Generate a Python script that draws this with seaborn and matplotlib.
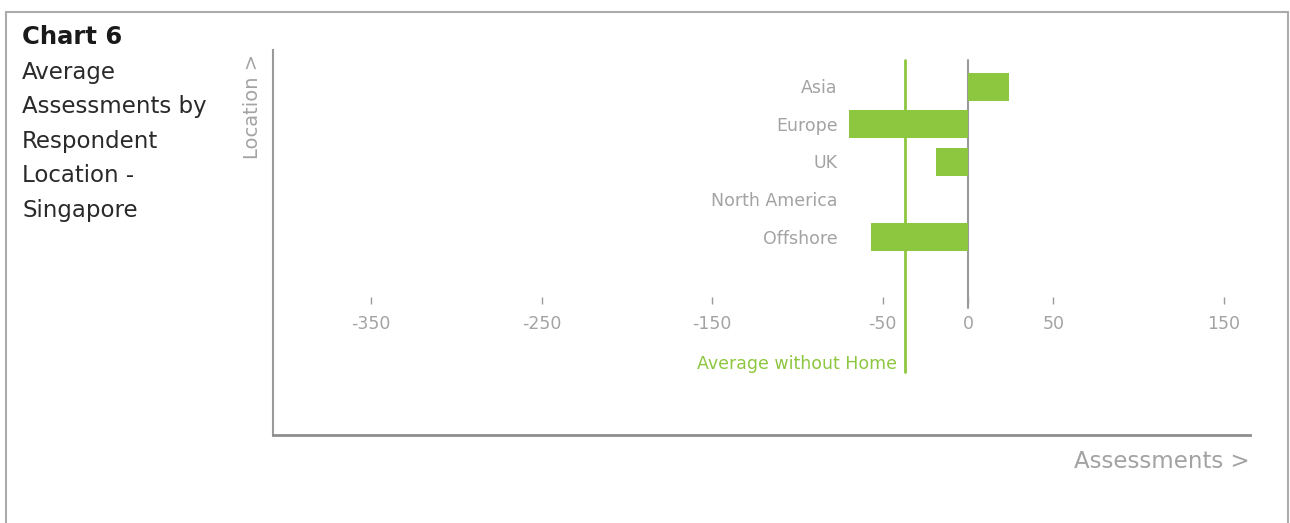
import matplotlib
matplotlib.use("Agg")
import matplotlib.pyplot as plt
import matplotlib.transforms as mtransforms
from matplotlib.patches import Rectangle
import seaborn as sns
import pandas as pd

# Data
locations = ["Asia", "Europe", "UK", "North America", "Offshore"]
assessments = [24, -70, -19, 0, -57]
avg_without_home = -37
tick_values = [-350, -250, -150, -50, 0, 50, 150]
tick_labels = ["-350", "-250", "-150", "-50", "0", "50", "150"]

GREEN = "#8DC63F"
GREY_TXT = "#A3A3A5"
GREY_LINE = "#9A9A9C"

sns.set_theme(style="white")
plt.rcParams["font.family"] = ["DejaVu Sans"]

fig = plt.figure(figsize=(12.9, 5.23), dpi=100)
ax = fig.add_axes([0.2116, 0.1683, 0.7574, 0.7361])

df = pd.DataFrame({"Location": locations, "Assessments": assessments})
sns.barplot(data=df, x="Assessments", y="Location", orient="h",
            color=GREEN, saturation=1, width=0.745, linewidth=0,
            ax=ax, zorder=2)

ax.set_xlim(-407.6, 165.4)
ax.set_ylim(9.27, -0.98)

# Zero reference and average line
ax.plot([0, 0], [-0.71, 5.89], color=GREY_LINE, lw=1.5, zorder=1)
ax.plot([avg_without_home, avg_without_home], [-0.71, 7.59], color=GREEN, lw=2, zorder=3)
ax.text(avg_without_home - 4.5, 7.38, "Average without Home", color=GREEN,
        fontsize=12.5, ha="right", va="center")

# Category labels inside the plot area
lab_tr = mtransforms.blended_transform_factory(ax.transAxes, ax.transData)
for i, loc in enumerate(locations):
    ax.text(0.578, i + 0.04, loc, transform=lab_tr, ha="right", va="center",
            fontsize=12.5, color=GREY_TXT)

ax.set_yticks([])
ax.set_xticks([])
ax.set_xlabel("")
ax.set_ylabel("")

# Floating value axis
sec = ax.secondary_xaxis(0.34)
sec.set_xticks(tick_values)
sec.set_xticklabels(tick_labels)
sec.tick_params(axis="x", direction="in", length=5, width=1, color=GREY_LINE,
                labelcolor=GREY_TXT, labelsize=12.5, pad=8)
for s in sec.spines.values():
    s.set_visible(False)

for side in ["top", "right"]:
    ax.spines[side].set_visible(False)
ax.spines["left"].set_color(GREY_LINE)
ax.spines["left"].set_linewidth(1.5)
ax.spines["bottom"].set_color("#8E8E90")
ax.spines["bottom"].set_linewidth(2)

ax.text(1.0, -0.07, "Assessments >", transform=ax.transAxes, ha="right",
        va="center", fontsize=16.5, color=GREY_TXT)
fig.text(252 / 1290, 1 - 106 / 523, "Location >", rotation=90, ha="center",
         va="center", fontsize=14, color=GREY_TXT)

# Title block
fig.text(22 / 1290, 1 - 37 / 523, "Chart 6", fontsize=17.5, fontweight="bold",
         color="#1A1A1A", ha="left", va="center")
for j, line in enumerate(["Average", "Assessments by", "Respondent",
                          "Location -", "Singapore"]):
    fig.text(22 / 1290, 1 - (72 + 34.6 * j) / 523, line, fontsize=16.5,
             color="#2A2A2A", ha="left", va="center")

# Frame
fig.patches.append(Rectangle((6 / 1290, -0.05), 1282 / 1290, 1.05 - 12 / 523,
                             transform=fig.transFigure, fill=False,
                             edgecolor="#ABABAB", lw=1.5))

fig.savefig("out.png", dpi=100, facecolor="white")
